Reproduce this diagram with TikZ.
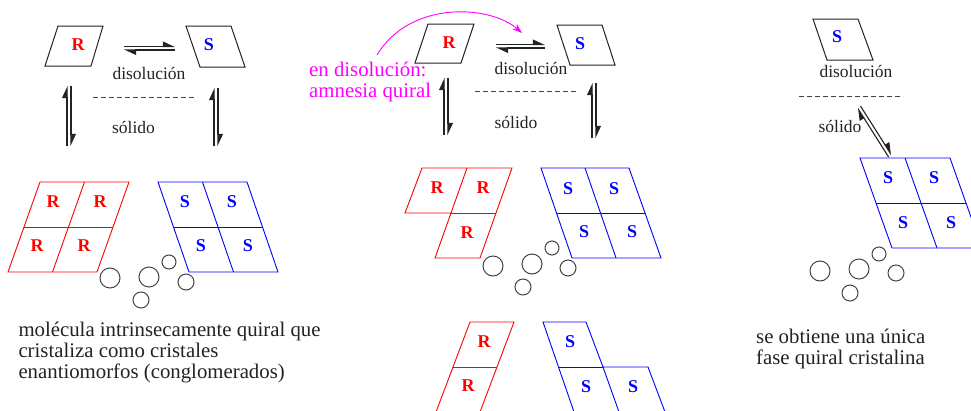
\documentclass[tikz,border=0pt]{standalone}
\usepackage{fontspec}
\setmainfont{Liberation Serif}
\usetikzlibrary{arrows.meta}
\definecolor{rcol}{RGB}{255,0,0}
\definecolor{scol}{RGB}{0,0,255}
\definecolor{mag}{RGB}{255,0,255}
\definecolor{ink}{RGB}{35,35,35}
\begin{document}
\begin{tikzpicture}[x=1pt,y=-1pt,
  mol/.style={draw=ink, line width=1pt},
  rcry/.style={draw=rcol, line width=0.9pt},
  scry/.style={draw=scol, line width=0.9pt},
  rlab/.style={text=rcol, font=\fontsize{18}{20}\selectfont\bfseries, inner sep=0pt},
  slab/.style={text=scol, font=\fontsize{18}{20}\selectfont\bfseries, inner sep=0pt},
  phase/.style={text=ink, font=\fontsize{17.5}{21}\selectfont, inner sep=0pt, anchor=base},
  caption/.style={text=ink, font=\fontsize{20.8}{21}\selectfont, inner sep=0pt, align=left, anchor=base west},
  eq/.style={draw=ink, line width=1.1pt, -{Triangle[left,length=11pt,width=10pt]}},
  bubble/.style={draw=ink!85, line width=1pt},
  sep/.style={draw=ink!85, line width=0.8pt, dash pattern=on 5pt off 3pt}
]
\clip (0,0) rectangle (971,410);
\fill[white] (0,0) rectangle (971,410);

% ================= panel 1 =================
\draw[mol] (58,26) -- (103,26) -- (91,66) -- (45,66) -- cycle;
\node[rlab] (r1) at (78,45) {R};
\draw[mol] (186,26) -- (231,26) -- (245,67) -- (200,67) -- cycle;
\node[slab] (s1) at (209,45) {S};

\coordinate (h1a) at (124,46.5); \coordinate (h1b) at (175,46.5);
\coordinate (h1c) at (175,50);   \coordinate (h1d) at (124,50);
\draw[eq] (h1a) -- (h1b);
\draw[eq] (h1c) -- (h1d);

\node[phase] (dis1) at (149,79.5) {disolución};
\coordinate (d1a) at (93,97); \coordinate (d1b) at (197,97);
\draw[sep] (d1a) -- (d1b);
\node[phase] (sol1) at (133.5,133.5) {sólido};

\coordinate (v1a) at (67,146); \coordinate (v1b) at (67,86);
\coordinate (v1c) at (71,86);  \coordinate (v1d) at (71,146);
\draw[eq] (v1a) -- (v1b);
\draw[eq] (v1c) -- (v1d);
\coordinate (v2a) at (214,146); \coordinate (v2b) at (214,88);
\coordinate (v2c) at (218,88);  \coordinate (v2d) at (218,146);
\draw[eq] (v2a) -- (v2b);
\draw[eq] (v2c) -- (v2d);

% red crystal
\draw[rcry] (40,182) -- (129,182) -- (97,272) -- (8,272) -- cycle;
\draw[rcry] (24,227) -- (113,227);
\draw[rcry] (84.5,182) -- (52.5,272);
\node[rlab] (r11) at (53,202) {R};
\node[rlab] (r12) at (100,202) {R};
\node[rlab] (r13) at (37,246) {R};
\node[rlab] (r14) at (84,246) {R};
% blue crystal
\draw[scry] (158,182) -- (247,182) -- (278,272) -- (189,272) -- cycle;
\draw[scry] (173.5,227) -- (262.5,227);
\draw[scry] (202.5,182) -- (233.5,272);
\node[slab] (s11) at (185,202) {S};
\node[slab] (s12) at (232,202) {S};
\node[slab] (s13) at (201,246) {S};
\node[slab] (s14) at (248,246) {S};
% bubbles
\draw[bubble] (110,278) circle[radius=10];
\draw[bubble] (149,277) circle[radius=10];
\draw[bubble] (169,262) circle[radius=7];
\draw[bubble] (186,282) circle[radius=8];
\draw[bubble] (141,300) circle[radius=8];

\node[caption] (txt1) at (18.3,378) {molécula intrinsecamente quiral que\\cristaliza como cristales\\enantiomorfos (conglomerados)};

% ================= panel 2 =================
\draw[mol] (428,24) -- (474,24) -- (461,63) -- (415,63) -- cycle;
\node[rlab] (r2) at (449,43) {R};
\draw[mol] (557,25) -- (602,25) -- (615,65) -- (570,65) -- cycle;
\node[slab] (s2) at (580,44) {S};

\coordinate (h2a) at (496,44.5); \coordinate (h2b) at (545,44.5);
\coordinate (h2c) at (545,48);   \coordinate (h2d) at (496,48);
\draw[eq] (h2a) -- (h2b);
\draw[eq] (h2c) -- (h2d);

\node[phase] (dis2) at (531,74.5) {disolución};
\coordinate (d2a) at (475,91); \coordinate (d2b) at (578,91);
\draw[sep] (d2a) -- (d2b);
\node[phase] (sol2) at (516,128.5) {sólido};

\coordinate (v3a) at (444,135); \coordinate (v3b) at (444,78);
\coordinate (v3c) at (448,78);  \coordinate (v3d) at (448,135);
\draw[eq] (v3a) -- (v3b);
\draw[eq] (v3c) -- (v3d);
\coordinate (v4a) at (592,138); \coordinate (v4b) at (592,83);
\coordinate (v4c) at (596,83);  \coordinate (v4d) at (596,138);
\draw[eq] (v4a) -- (v4b);
\draw[eq] (v4c) -- (v4d);

\node[caption, text=mag] (amn) at (309,97) {en disolución:\\amnesia quiral};
\coordinate (arcS) at (377,55); \coordinate (arcE) at (522,33);
\draw[mag, line width=0.9pt, -{Stealth[length=10pt,width=7pt]}] (arcS) .. controls (410,0) and (490,5) .. (arcE);

% red crystal (3 cells)
\draw[rcry] (422,168) -- (512,168) -- (496,213) -- (480,258) -- (435,258) -- (451,213) -- (405,213) -- cycle;
\draw[rcry] (451,213) -- (496,213);
\draw[rcry] (467,168) -- (451,213);
\node[rlab] (r21) at (437,188) {R};
\node[rlab] (r22) at (483,188) {R};
\node[rlab] (r23) at (467,233) {R};
% blue crystal
\draw[scry] (541,168) -- (629,168) -- (661,258) -- (572,258) -- cycle;
\draw[scry] (556.5,213) -- (645,213);
\draw[scry] (585,168) -- (616,258);
\node[slab] (s21) at (568,189) {S};
\node[slab] (s22) at (614,189) {S};
\node[slab] (s23) at (584,232) {S};
\node[slab] (s24) at (632,232) {S};
% bubbles
\draw[bubble] (493,266) circle[radius=10];
\draw[bubble] (532,264) circle[radius=10];
\draw[bubble] (552,248) circle[radius=7];
\draw[bubble] (568,268) circle[radius=8];
\draw[bubble] (523,287) circle[radius=8];
% lower red column
\draw[rcry] (470,322) -- (514,322) -- (480,412) -- (436,412) -- cycle;
\draw[rcry] (453,367) -- (497,367);
\node[rlab] (r31) at (484,342) {R};
\node[rlab] (r32) at (468,386) {R};
% lower blue
\draw[scry] (543,322) -- (586,322) -- (603,367) -- (648,367) -- (665,412) -- (574,412) -- cycle;
\draw[scry] (558,367) -- (603,367);
\draw[scry] (603,367) -- (619,412);
\node[slab] (s31) at (570,342) {S};
\node[slab] (s32) at (586,387) {S};
\node[slab] (s33) at (633,387) {S};

% ================= panel 3 =================
\draw[mol] (813,19) -- (858,19) -- (873,60) -- (827,60) -- cycle;
\node[slab] (s4) at (837,37) {S};
\node[phase] (dis3) at (856,77.5) {disolución};
\coordinate (d3a) at (799,96); \coordinate (d3b) at (903,96);
\draw[sep] (d3a) -- (d3b);
\node[phase] (sol3) at (840,132) {sólido};

\coordinate (g1a) at (888.5,156.9); \coordinate (g1b) at (857.5,107.9);
\coordinate (g1c) at (860.5,106.1); \coordinate (g1d) at (891.5,155.1);
\draw[eq] (g1a) -- (g1b);
\draw[eq] (g1c) -- (g1d);

\draw[scry] (860,158) -- (950,158) -- (982,248) -- (892,248) -- cycle;
\draw[scry] (876,203) -- (966,203);
\draw[scry] (905,158) -- (937,248);
\node[slab] (s41) at (888,178) {S};
\node[slab] (s42) at (934,178) {S};
\node[slab] (s43) at (903,223) {S};
\node[slab] (s44) at (951,223) {S};

\draw[bubble] (820,271) circle[radius=10];
\draw[bubble] (859,269) circle[radius=10];
\draw[bubble] (879,254) circle[radius=7];
\draw[bubble] (896,273) circle[radius=8];
\draw[bubble] (850,293) circle[radius=8];

\node[caption] (txt3) at (756,364) {se obtiene una única\\fase quiral cristalina};
\end{tikzpicture}
\end{document}
